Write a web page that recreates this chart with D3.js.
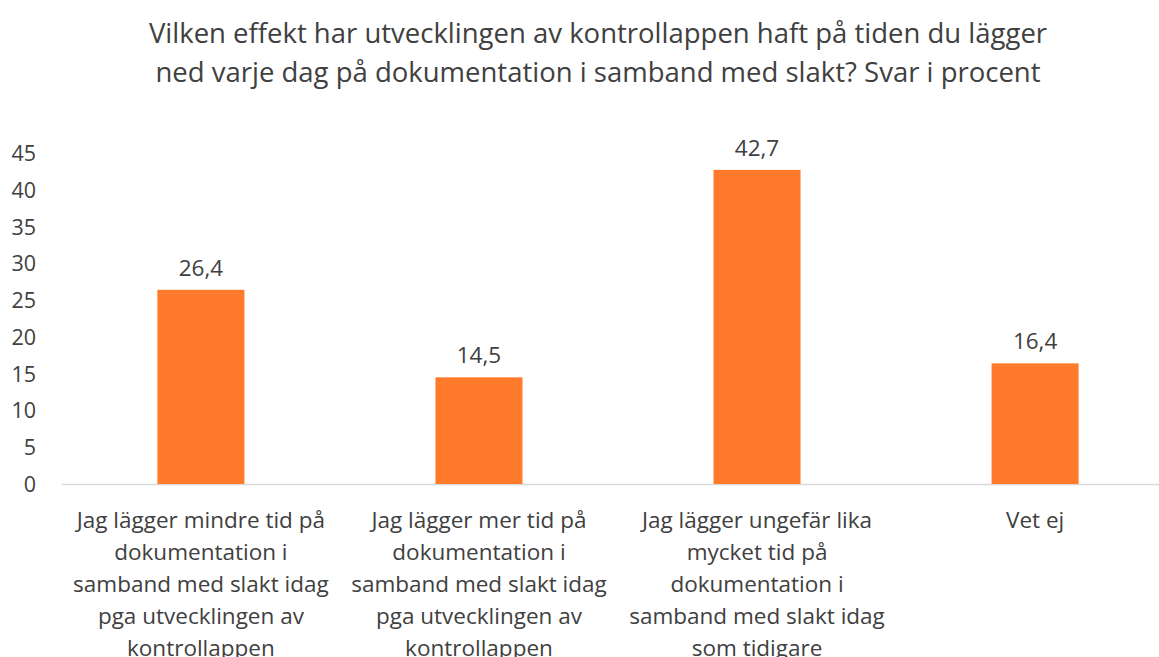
<!DOCTYPE html>
<html><head><meta charset="utf-8">
<script src="https://cdn.jsdelivr.net/npm/d3@7"></script>
<style>body{margin:0;background:#fff;} text{font-family:"Open Sans","Noto Sans",sans-serif;}</style>
</head><body>
<svg id="c" width="1159" height="657"></svg>
<script>
const categories = [
  ["Jag lägger mindre tid på","dokumentation i","samband med slakt idag","pga utvecklingen av","kontrollappen"],
  ["Jag lägger mer tid på","dokumentation i","samband med slakt idag","pga utvecklingen av","kontrollappen"],
  ["Jag lägger ungefär lika","mycket tid på","dokumentation i","samband med slakt idag","som tidigare"],
  ["Vet ej"]
];
const values = [26.4, 14.5, 42.7, 16.4];
const yTicks = [0,5,10,15,20,25,30,35,40,45];
const titleLines = ["Vilken effekt har utvecklingen av kontrollappen haft på tiden du lägger","ned varje dag på dokumentation i samband med slakt? Svar i procent"];

const svg = d3.select("#c");
const x = d3.scaleBand().domain(d3.range(values.length)).range([62, 1174]).paddingInner(0.687).paddingOuter(0.343);
const y = d3.scaleLinear().domain([0,45]).range([484,153]);
const color = "#FF7A2A", txt = "#404040";

svg.append("g").selectAll("text").data(titleLines).join("text")
  .attr("x", 598).attr("y", (d,i)=>43+i*39).attr("text-anchor","middle")
  .attr("font-size", 27.5).attr("fill", txt).text(d=>d);

const yAxis = svg.append("g").attr("transform","translate(36,0)")
  .call(d3.axisLeft(y).tickValues(yTicks).tickSize(0).tickPadding(0));
yAxis.select(".domain").remove();
yAxis.selectAll("text").attr("font-size",21.5).attr("fill",txt).attr("font-family","'Open Sans',sans-serif").attr("dy","0.35em");

svg.append("line").attr("x1",62).attr("x2",1159).attr("y1",y(0)+0.5).attr("y2",y(0)+0.5)
  .attr("stroke","#d9d9d9").attr("stroke-width",1.5);

svg.append("g").selectAll("rect").data(values).join("rect")
  .attr("x",(d,i)=>x(i)).attr("width",x.bandwidth())
  .attr("y",d=>y(d)).attr("height",d=>y(0)-y(d)).attr("fill",color);

svg.append("g").selectAll("text").data(values).join("text")
  .attr("x",(d,i)=>x(i)+x.bandwidth()/2).attr("y",d=>y(d)-14)
  .attr("text-anchor","middle").attr("font-size",22.5).attr("fill",txt)
  .text(d=>d.toFixed(1).replace(".",","));

const lab = svg.append("g").selectAll("text").data(categories).join("text")
  .attr("text-anchor","middle").attr("font-size",22.5).attr("fill",txt);
lab.each(function(lines,i){
  d3.select(this).selectAll("tspan").data(lines).join("tspan")
    .attr("x", x(i)+x.bandwidth()/2).attr("y",(d,j)=>528+j*32).text(d=>d);
});
</script>
</body></html>
